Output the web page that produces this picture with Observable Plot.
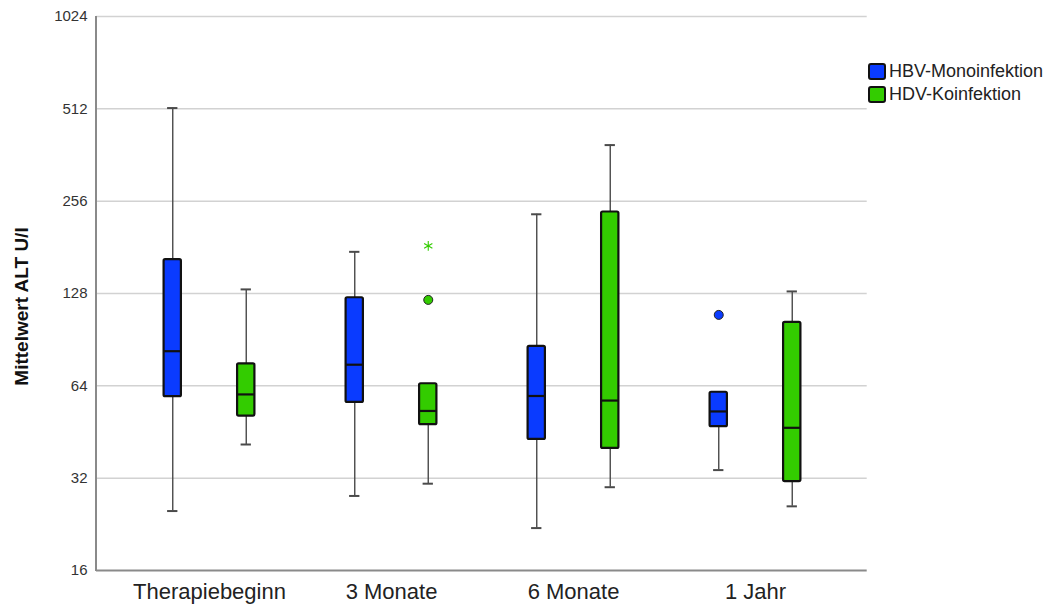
<!DOCTYPE html>
<html><head><meta charset="utf-8">
<script src="https://cdn.jsdelivr.net/npm/d3@7"></script>
<script src="https://cdn.jsdelivr.net/npm/@observablehq/plot@0.6"></script>
<style>
body{margin:0;background:#fff;font-family:"Liberation Sans",Arial,sans-serif;}
#wrap{position:relative;width:1048px;height:605px;}
#legend{position:absolute;left:868px;top:60px;font-size:18px;color:#222;}
.item{display:flex;align-items:center;height:22.7px;}
.sw{width:14px;height:13px;border:2.5px solid #111;border-radius:3px;margin-right:3px;}
</style></head><body><div id="wrap"><div id="legend"></div></div>
<script>
const categories = ["Therapiebeginn", "3 Monate", "6 Monate", "1 Jahr"];
const groups = ["HBV-Monoinfektion", "HDV-Koinfektion"];
const colors = ["#0a3bff", "#33cc00"];

// HBV-Monoinfektion
const hbvLow = [25, 28, 22, 34];
const hbvQ1 = [59, 56.5, 42.8, 47.1];
const hbvMedian = [83, 75, 59.3, 52.8];
const hbvQ3 = [165, 124, 86, 61];
const hbvHigh = [515, 175, 232, 61];
// HDV-Koinfektion
const hdvLow = [41.2, 30.7, 29.9, 25.9];
const hdvQ1 = [51, 47.8, 40, 31.2];
const hdvMedian = [60, 53, 57.3, 46.7];
const hdvQ3 = [75.5, 65, 236, 103];
const hdvHigh = [132, 65, 390, 130];

// outliers
const outlierCategory = ["3 Monate", "3 Monate", "1 Jahr"];
const outlierGroup = ["HDV-Koinfektion", "HDV-Koinfektion", "HBV-Monoinfektion"];
const outlierValue = [183, 122, 109];
const outlierKind = ["extreme", "outlier", "outlier"];

const yTicks = [16, 32, 64, 128, 256, 512, 1024];

const boxes = [];
categories.forEach((c, i) => {
  boxes.push({category: c, group: groups[0], low: hbvLow[i], q1: hbvQ1[i], median: hbvMedian[i], q3: hbvQ3[i], high: hbvHigh[i]});
  boxes.push({category: c, group: groups[1], low: hdvLow[i], q1: hdvQ1[i], median: hdvMedian[i], q3: hdvQ3[i], high: hdvHigh[i]});
});
const outliers = outlierValue.map((v, i) => ({category: outlierCategory[i], group: outlierGroup[i], value: v, kind: outlierKind[i]}));

const W = 1048, H = 605, mL = 96, mR = 181.3, mT = 16, mB = 35;
const pIn = 0.2, pOut = 0.216;
const step = (W - mL - mR) / (categories.length - pIn + 2 * pOut);
const bw = step * (1 - pIn);
const groupOffset = 36.75;
const boxW = 17, capW = 10;
const boxInset = (bw - boxW) / 2, capInset = (bw - capW) / 2;
const whisk = "#4a4a4a";

const marks = [
  Plot.ruleY(yTicks.slice(1), {stroke: "#d2d2d2", strokeWidth: 1.5}),
  Plot.ruleY([16], {stroke: "#8a8a8a", strokeWidth: 2}),
];
groups.forEach((g, gi) => {
  const d = boxes.filter(b => b.group === g);
  const dx = gi === 0 ? -groupOffset : groupOffset;
  marks.push(
    Plot.ruleX(d, {x: "category", y1: "low", y2: "q1", dx, stroke: whisk, strokeWidth: 1.4}),
    Plot.ruleX(d.filter(b => b.high > b.q3), {x: "category", y1: "q3", y2: "high", dx, stroke: whisk, strokeWidth: 1.4}),
    Plot.tickY(d.filter(b => b.high > b.q3), {x: "category", y: "high", dx, stroke: whisk, strokeWidth: 2, insetLeft: capInset, insetRight: capInset}),
    Plot.tickY(d.filter(b => b.low < b.q1), {x: "category", y: "low", dx, stroke: whisk, strokeWidth: 2, insetLeft: capInset, insetRight: capInset}),
    Plot.barY(d, {x: "category", y1: "q1", y2: "q3", dx, fill: "group", stroke: "#111", strokeWidth: 2.2, rx: 1.5, insetLeft: boxInset, insetRight: boxInset}),
    Plot.tickY(d, {x: "category", y: "median", dx, stroke: "#111", strokeWidth: 2.2, insetLeft: boxInset, insetRight: boxInset}),
    Plot.dot(outliers.filter(o => o.group === g && o.kind === "outlier"), {x: "category", y: "value", dx, fill: "group", stroke: "#222", strokeWidth: 1, r: 4.5}),
    Plot.dot(outliers.filter(o => o.group === g && o.kind === "extreme"), {x: "category", y: "value", dx, symbol: "asterisk", stroke: "group", strokeWidth: 1.1, r: 4.5})
  );
});
marks.push(Plot.text(["Mittelwert ALT U/l"], {frameAnchor: "left", textAnchor: "middle", rotate: -90, dx: -75, dy: 13, fontWeight: "bold", fontSize: 19, fill: "#111"}));

const chart = Plot.plot({
  width: W, height: H, marginLeft: mL, marginRight: mR, marginTop: mT, marginBottom: mB,
  style: {fontFamily: "'Liberation Sans', Arial, sans-serif", fontSize: "15px", color: "#333", background: "white", overflow: "visible"},
  x: {domain: categories, paddingInner: pIn, paddingOuter: pOut, label: null, tickSize: 0, tickPadding: 13},
  y: {type: "log", base: 2, domain: [16, 1024], ticks: yTicks, tickFormat: d => String(d), tickSize: 0, tickPadding: 9, label: null},
  color: {domain: groups, range: colors},
  marks
});

// axis styling
chart.querySelectorAll('[aria-label^="x-axis"] text').forEach(t => { t.setAttribute("font-size", "22"); t.style.fontSize = "22px"; t.setAttribute("fill", "#222"); });
// left axis line drawn from the y scale
const ys = chart.scale("y");
d3.select(chart).append("line")
  .attr("x1", mL).attr("x2", mL)
  .attr("y1", ys.apply(1024)).attr("y2", ys.apply(16) + 1)
  .attr("stroke", "#8a8a8a").attr("stroke-width", 2);

document.getElementById("wrap").prepend(chart);

const legend = document.getElementById("legend");
groups.forEach((g, i) => {
  const item = document.createElement("div");
  item.className = "item";
  const sw = document.createElement("span");
  sw.className = "sw";
  sw.style.background = colors[i];
  const lab = document.createElement("span");
  lab.textContent = g;
  item.append(sw, lab);
  legend.append(item);
});
</script></body></html>
